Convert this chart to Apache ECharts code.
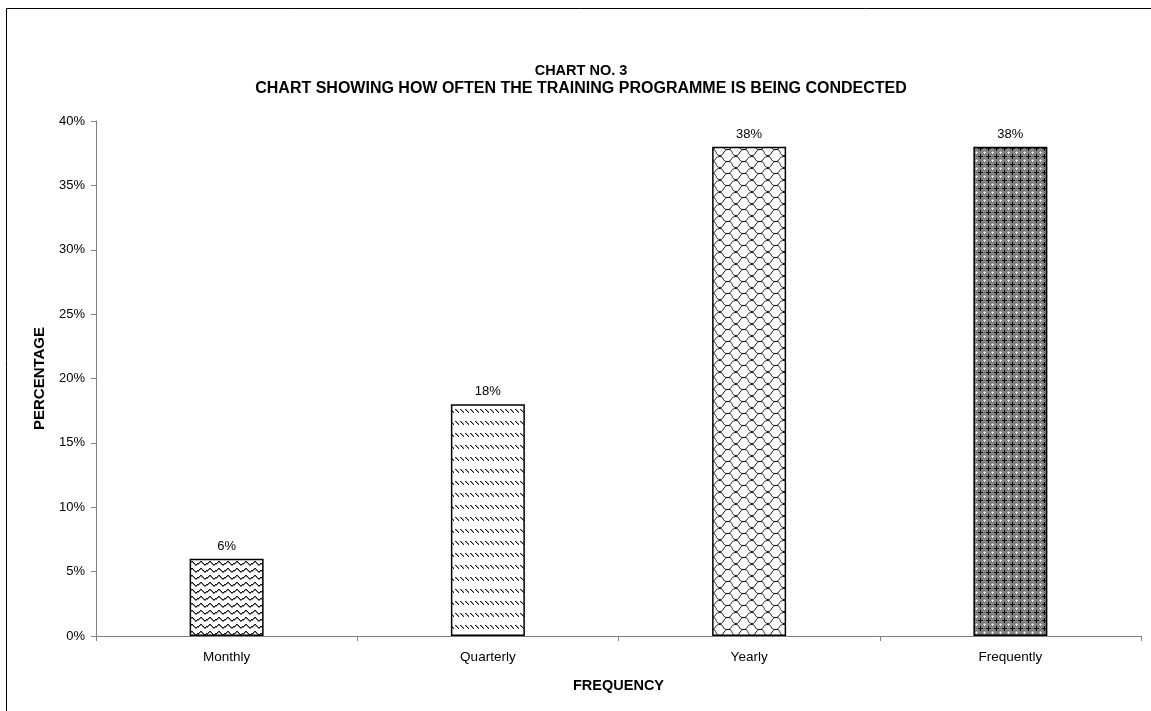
<!DOCTYPE html>
<html>
<head>
<meta charset="utf-8">
<script src="https://cdn.jsdelivr.net/npm/echarts@6/dist/echarts.min.js"></script>
<style>
  html, body { margin: 0; padding: 0; background: #fff; }
  #chart { width: 1151px; height: 711px; }
</style>
</head>
<body>
<div id="chart"></div>
<script>
const categories = ['Monthly', 'Quarterly', 'Yearly', 'Frequently'];
const percentages = [6, 18, 38, 38];
const yTicks = [0, 5, 10, 15, 20, 25, 30, 35, 40];
const titleLines = ['CHART NO. 3', 'CHART SHOWING HOW OFTEN THE TRAINING PROGRAMME IS BEING CONDECTED'];

// Small repeating fill tiles, one per bar
function tile(w, h, draw) {
  const c = document.createElement('canvas');
  c.width = w; c.height = h;
  const g = c.getContext('2d');
  g.fillStyle = '#fff';
  g.fillRect(0, 0, w, h);
  draw(g);
  return c;
}
function px(g, pts, col) {
  g.fillStyle = col;
  pts.forEach(p => g.fillRect(p[0], p[1], 1, 1));
}

// wavy lines
const waveTile = tile(9, 7, g => {
  px(g, [[0,3],[1,2],[2,1],[3,1],[4,2],[5,3],[6,4],[7,4],[8,3]], '#1a1a1a');
  px(g, [[0,4],[1,3],[2,2],[3,2],[4,3],[5,4],[6,5],[7,5],[8,4]], '#8a8a8a');
});
// short diagonal dashes
const dashTile = tile(5, 12, g => {
  px(g, [[0,1],[1,2],[2,3],[3,4]], '#1a1a1a');
  px(g, [[1,1],[2,2],[3,3]], '#999');
});
// shingle
const shingleTile = tile(16, 12, g => {
  g.strokeStyle = '#111';
  g.lineWidth = 1;
  g.beginPath();
  g.moveTo(0, 0.5);
  g.bezierCurveTo(4, 0.5, 2, 5.5, 7, 5.5);
  g.lineTo(9, 5.5);
  g.bezierCurveTo(13, 5.5, 11, 11.5, 16, 11.5);
  g.moveTo(9, 5.5);
  g.bezierCurveTo(12, 4, 11, 0.5, 16, 0.5);
  g.moveTo(0, 11.5);
  g.bezierCurveTo(4, 11.5, 3, 7, 7, 5.5);
  g.stroke();
});
// dark lattice
const latticeTile = tile(8, 8, g => {
  g.fillStyle = '#808080';
  g.fillRect(0, 0, 8, 8);
  px(g, [[4,2],[4,3],[2,4],[3,4],[4,4],[5,4],[6,4],[4,5],[4,6]], '#000');
  px(g, [[0,0],[1,0],[0,1]], '#e6e6e6');
  px(g, [[7,0],[0,7]], '#c0c0c0');
});
const fills = [waveTile, dashTile, shingleTile, latticeTile];

const chart = echarts.init(document.getElementById('chart'), null, { renderer: 'canvas' });
const font = 'Arial, "Liberation Sans", sans-serif';

chart.setOption({
  animation: false,
  backgroundColor: '#fff',
  title: {
    text: '{a|' + titleLines[0] + '}\n{b|' + titleLines[1] + '}',
    left: 576,
    textAlign: 'center',
    top: 57,
    textStyle: {
      rich: {
        a: { fontFamily: font, fontSize: 14.5, fontWeight: 'bold', color: '#000', lineHeight: 18, align: 'center' },
        b: { fontFamily: font, fontSize: 16, fontWeight: 'bold', color: '#000', lineHeight: 18, align: 'center' }
      }
    }
  },
  graphic: [{
    type: 'rect',
    shape: { x: 6.5, y: 8.5, width: 1200, height: 800 },
    style: { fill: 'none', stroke: '#000', lineWidth: 1 },
    silent: true
  }],
  grid: { left: 96, right: 10, top: 121, bottom: 75, containLabel: false },
  xAxis: {
    type: 'category',
    data: categories,
    name: 'FREQUENCY',
    nameLocation: 'middle',
    nameGap: 42,
    nameTextStyle: { fontFamily: font, fontSize: 14.5, fontWeight: 'bold', color: '#000' },
    axisLine: { lineStyle: { color: '#808080', width: 1 } },
    axisTick: { show: true, length: 5, lineStyle: { color: '#808080' } },
    axisLabel: { fontFamily: font, fontSize: 13.5, color: '#000', margin: 14 }
  },
  yAxis: {
    type: 'value',
    min: yTicks[0],
    max: yTicks[yTicks.length - 1],
    interval: 5,
    name: 'PERCENTAGE',
    nameLocation: 'middle',
    nameRotate: 90,
    nameGap: 49,
    nameTextStyle: { fontFamily: font, fontSize: 15, fontWeight: 'bold', color: '#000' },
    axisLine: { show: true, lineStyle: { color: '#808080', width: 1 } },
    axisTick: { show: true, length: 5, lineStyle: { color: '#808080' } },
    splitLine: { show: false },
    axisLabel: { fontFamily: font, fontSize: 13, color: '#000', margin: 11, formatter: v => v + '%' }
  },
  series: [{
    type: 'bar',
    barWidth: 74,
    data: percentages.map((v, i) => ({
      value: v,
      itemStyle: { color: { image: fills[i], repeat: 'repeat' } }
    })),
    itemStyle: { borderColor: '#000', borderWidth: 1.5 },
    label: {
      show: true,
      position: 'top',
      distance: 6,
      fontFamily: font,
      fontSize: 13,
      color: '#000',
      formatter: p => p.value + '%'
    }
  }]
});
</script>
</body>
</html>
